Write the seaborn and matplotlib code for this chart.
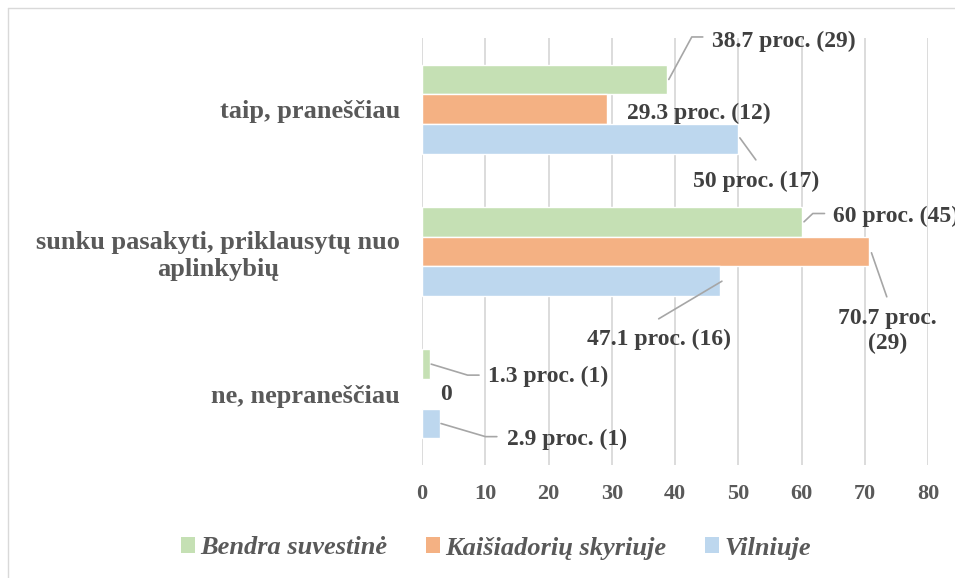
import matplotlib
matplotlib.use("Agg")
import matplotlib.pyplot as plt
import seaborn as sns
import pandas as pd
from matplotlib.patches import Patch
from matplotlib.lines import Line2D
from matplotlib.transforms import IdentityTransform
from matplotlib.font_manager import FontProperties

# ---- data ----
categories = ["taip, praneščiau",
              "sunku pasakyti, priklausytų nuo\naplinkybių",
              "ne, nepraneščiau"]
series = ["Bendra suvestinė", "Kaišiadorių skyriuje", "Vilniuje"]
bendra = [38.7, 60, 1.3]
kaisiadoriu = [29.3, 70.7, 0]
vilniuje = [50, 47.1, 2.9]
bendra_n = [29, 45, 1]
kaisiadoriu_n = [12, 29, 0]
vilniuje_n = [17, 16, 1]
xticks = [0, 10, 20, 30, 40, 50, 60, 70, 80]
colors = ["#C5E0B4", "#F4B183", "#BDD7EE"]

values = [bendra, kaisiadoriu, vilniuje]
counts = [bendra_n, kaisiadoriu_n, vilniuje_n]

rows = []
for s, vals in zip(series, values):
    for c, v in zip(categories, vals):
        rows.append({"category": c, "series": s, "value": v})
df = pd.DataFrame(rows)

sns.set_style("white")
plt.rcParams["font.family"] = ["Liberation Serif", "DejaVu Serif"]
plt.rcParams["font.weight"] = "bold"

W, H = 955, 578
fig = plt.figure(figsize=(W / 100, H / 100), dpi=100)
ax = fig.add_axes([422 / W, 1 - 465 / H, 506 / W, 427 / H])

sns.barplot(data=df, y="category", x="value", hue="series", orient="h",
            order=categories, hue_order=series, palette=colors, saturation=1,
            width=0.626, gap=0, errorbar=None, legend=False, ax=ax)

ax.set_xlim(0, 80)
ax.set_xticks(xticks)
ax.set_xticklabels([str(t) for t in xticks])
ax.set_xlabel("")
ax.set_ylabel("")
for sp in ax.spines.values():
    sp.set_visible(False)
ax.grid(axis="x", color="#d9d9d9", lw=1.3)
ax.grid(axis="y", visible=False)
ax.set_axisbelow(True)
ax.tick_params(axis="x", length=0, pad=14, labelsize=16, labelcolor="#595959")
ax.tick_params(axis="y", length=0, pad=16, labelsize=19, labelcolor="#595959")
for lab in ax.get_xticklabels() + ax.get_yticklabels():
    lab.set_fontweight("bold")
for lab in ax.get_yticklabels():
    lab.set_multialignment("center")

# ---- data labels (layout offsets in pixels from bar end; y downward) ----
layout = {
    (0, 0): dict(text=(117, -38), leader=[(2, 0), (25, -42.5), (36, -42.5)]),
    (1, 0): dict(text=(91, 4), leader=None),
    (2, 0): dict(text=(18, 42.5), leader=[(1.6, -1), (17.6, 21)]),
    (0, 1): dict(text=(95, -5.6), leader=[(2.5, 0), (11.3, -8.3), (23, -8.3)]),
    (1, 1): dict(text=(18.3, 79.5), leader=[(2.3, 1.3), (17.6, 45.3)]),
    (2, 1): dict(text=(-61, 58.3), leader=[(2, 0), (-61.2, 37.6)]),
    (0, 2): dict(text=(118.3, 12), leader=[(1, 0), (37.4, 11), (48.8, 11)]),
    (1, 2): dict(text=(23.5, 0.5), leader=None),
    (2, 2): dict(text=(126.7, 15.8), leader=[(0.7, 0), (45.1, 13.1), (56.5, 13.1)]),
}
wrap = {(1, 1)}

for i, cont in enumerate(ax.containers):
    for j, rect in enumerate(cont.patches):
        v = values[i][j]
        n = counts[i][j]
        if v == 0:
            txt = "0"
        else:
            sep = "\n" if (i, j) in wrap else " "
            txt = f"{v:g} proc.{sep}({n})"
        x = rect.get_x() + rect.get_width()
        y = rect.get_y() + rect.get_height() / 2
        L = layout[(i, j)]
        dx, dy = L["text"]
        ax.annotate(txt, xy=(x, y), xytext=(dx, -dy), textcoords="offset pixels",
                    ha="center", va="center", fontsize=17, fontweight="bold",
                    color="#404040", multialignment="center",
                    annotation_clip=False)
        if L["leader"]:
            axp, ayp = ax.transData.transform((x, y))
            xs = [axp + p[0] for p in L["leader"]]
            ys = [ayp - p[1] for p in L["leader"]]
            fig.add_artist(Line2D(xs, ys, transform=IdentityTransform(),
                                  color="#a6a6a6", lw=1.2))

# ---- legend ----
handles = [Patch(facecolor=c, edgecolor="none", label=s) for c, s in zip(colors, series)]
fig.legend(handles=handles, loc="center", bbox_to_anchor=(496 / W, 1 - 548 / H),
           ncol=3, frameon=False,
           prop=FontProperties(family="Liberation Serif", weight="bold",
                               style="italic", size=19),
           handlelength=0.55, handleheight=0.55, handletextpad=0.2,
           columnspacing=1.45, labelcolor="#595959")

# ---- chart area border ----
fig.add_artist(Line2D([8 / W, 8 / W], [0, 1 - 8 / H], transform=fig.transFigure,
                      color="#d9d9d9", lw=1))
fig.add_artist(Line2D([8 / W, 1], [1 - 8 / H, 1 - 8 / H], transform=fig.transFigure,
                      color="#d9d9d9", lw=1))

fig.savefig("out.png", dpi=100)
